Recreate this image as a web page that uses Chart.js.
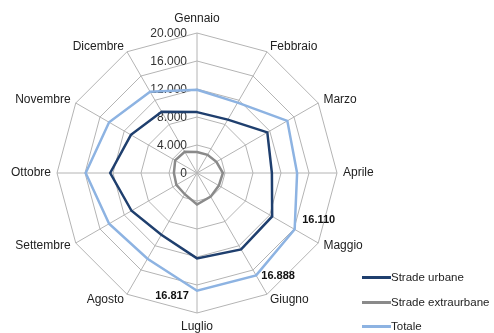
<!DOCTYPE html>
<html>
<head>
<meta charset="utf-8">
<script src="https://cdn.jsdelivr.net/npm/chart.js@4/dist/chart.umd.min.js"></script>
<style>
    html, body { margin: 0; padding: 0; background: #fff; overflow: hidden; }
    #wrap { position: relative; width: 494px; height: 333px; overflow: hidden; }
    #chart { position: absolute; left: 0; top: 0; }
    .legend { position: absolute; left: 362px; font: 11.5px "Liberation Sans", Arial, sans-serif; color: #222; }
    .legend div { position: relative; height: 24.5px; line-height: 24.5px; padding-left: 29px; white-space: nowrap; }
    .legend span { position: absolute; left: 0; top: 11px; width: 29px; height: 3px; }
</style>
</head>
<body>
<div id="wrap">
    <canvas id="chart" width="494" height="333"></canvas>
    <div class="legend" style="top: 265px;">
        <div><span style="background:#1f3f6e"></span>Strade urbane</div>
        <div><span style="background:#8a8a8a"></span>Strade extraurbane</div>
        <div><span style="background:#8db3e2"></span>Totale</div>
    </div>
</div>
<script>
// Months (categories)
const MONTHS = ['Gennaio', 'Febbraio', 'Marzo', 'Aprile', 'Maggio', 'Giugno',
    'Luglio', 'Agosto', 'Settembre', 'Ottobre', 'Novembre', 'Dicembre'];

// Series values
const URBANE = [8700, 8800, 11600, 10700, 12400, 12600, 12200, 10200, 10800, 12400, 10900, 10100];
const EXTRAURBANE = [3000, 3000, 3200, 3700, 3600, 3900, 4500, 3500, 3400, 3300, 3600, 3500];
const TOTALE = [11900, 11600, 14900, 14300, 16110, 16888, 16817, 14150, 14500, 15900, 14500, 13400];

// Radial ticks
const TICKS = [0, 4000, 8000, 12000, 16000, 20000];

// Labelled points on the Totale series
const LABELLED = [4, 5, 6];

const COLORS = {
    urbane: '#1f3f6e',
    extra: '#8a8a8a',
    totale: '#8db3e2',
    grid: '#b4b4b4'
};

const FONT = '"Liberation Sans", Arial, sans-serif';

function fmtNum(v) {
    // thousand separator with dot
    return String(v).replace(/\B(?=(\d{3})+(?!\d))/g, '.');
}

// Tick labels right-aligned left of the vertical axis
const tickLabels = {
    id: 'tickLabels',
    beforeDatasetsDraw(chart) {
        const scale = chart.scales.r;
        const ctx = chart.ctx;
        ctx.save();
        ctx.font = '12px ' + FONT;
        ctx.fillStyle = '#333';
        ctx.textAlign = 'right';
        ctx.textBaseline = 'middle';
        TICKS.forEach(t => {
            const d = scale.getDistanceFromCenterForValue(t);
            ctx.fillText(fmtNum(t), scale.xCenter - 10, scale.yCenter - d + 1);
        });
        ctx.restore();
    }
};

// Month labels, vertically centred on the spoke ends
const monthLabels = {
    id: 'monthLabels',
    afterDraw(chart) {
        const scale = chart.scales.r;
        const ctx = chart.ctx;
        ctx.save();
        ctx.font = '12px ' + FONT;
        ctx.fillStyle = '#222';
        ctx.textBaseline = 'middle';
        MONTHS.forEach((m, i) => {
            const vertical = (i === 0 || i === 6);
            const p = scale.getPointPosition(i, scale.drawingArea + (vertical ? 14 : 6));
            ctx.textAlign = vertical ? 'center' : (i < 6 ? 'left' : 'right');
            ctx.fillText(m, p.x, p.y);
        });
        ctx.restore();
    }
};

// Value labels on some Totale points
const valueLabels = {
    id: 'valueLabels',
    afterDatasetsDraw(chart) {
        const meta = chart.getDatasetMeta(2);
        const ctx = chart.ctx;
        const offsets = { 4: [24, -9], 5: [22, 1], 6: [-25, 5] };
        ctx.save();
        ctx.font = 'bold 11px ' + FONT;
        ctx.fillStyle = '#111';
        ctx.textAlign = 'center';
        ctx.textBaseline = 'middle';
        LABELLED.forEach(i => {
            const p = meta.data[i];
            const o = offsets[i];
            ctx.fillText(fmtNum(TOTALE[i]), p.x + o[0], p.y + o[1]);
        });
        ctx.restore();
    }
};

new Chart(document.getElementById('chart'), {
    type: 'radar',
    data: {
        labels: MONTHS,
        datasets: [
            { label: 'Strade urbane', data: URBANE, borderColor: COLORS.urbane, borderWidth: 2.5, fill: false },
            { label: 'Strade extraurbane', data: EXTRAURBANE, borderColor: COLORS.extra, borderWidth: 2.5, fill: false },
            { label: 'Totale', data: TOTALE, borderColor: COLORS.totale, borderWidth: 2.5, fill: false }
        ]
    },
    options: {
        responsive: false,
        animation: false,
        layout: { padding: { top: 33, bottom: 20, left: 57, right: 157 } },
        elements: {
            point: { radius: 0, hoverRadius: 0 },
            line: { tension: 0, borderJoinStyle: 'miter' }
        },
        plugins: {
            legend: { display: false },
            tooltip: { enabled: false }
        },
        scales: {
            r: {
                min: 0,
                max: 20000,
                ticks: { stepSize: 4000, display: false },
                grid: { color: COLORS.grid, lineWidth: 1 },
                angleLines: { color: COLORS.grid, lineWidth: 1 },
                pointLabels: { display: false }
            }
        }
    },
    plugins: [tickLabels, monthLabels, valueLabels]
});
</script>
</body>
</html>
